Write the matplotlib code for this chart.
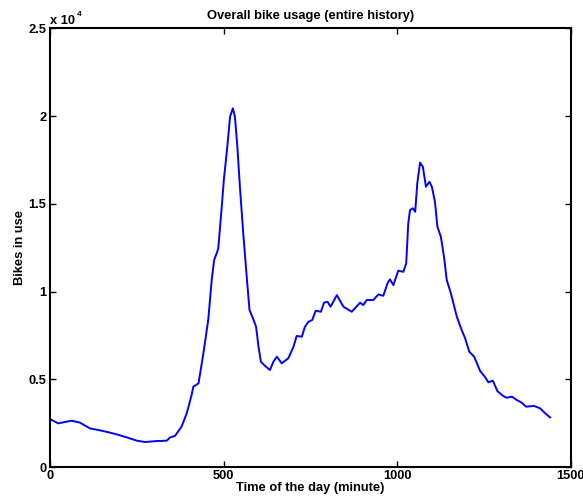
import matplotlib
matplotlib.use('Agg')
import matplotlib.pyplot as plt
from matplotlib.ticker import FuncFormatter

# values (minute of day, bikes in use)
minute = [0, 22, 61, 85, 114, 138, 172, 191, 220, 249, 273, 306, 335, 345, 359,
          378, 393, 407, 412, 427, 441, 455, 465, 472, 480, 484, 494, 500, 510,
          518, 526, 532, 539, 547, 556, 566, 574, 583, 593, 600, 607, 619, 633,
          643, 653, 667, 686, 701, 710, 725, 734, 744, 755, 765, 780, 789, 799,
          808, 826, 845, 869, 893, 902, 912, 931, 946, 960, 972, 979, 989, 1003,
          1018, 1026, 1032, 1037, 1045, 1052, 1058, 1066, 1074, 1083, 1093, 1100,
          1109, 1116, 1126, 1135, 1143, 1155, 1172, 1186, 1196, 1208, 1222, 1239,
          1254, 1263, 1276, 1289, 1305, 1316, 1331, 1345, 1359, 1372, 1395, 1412,
          1427, 1441]
bikes = [2720, 2490, 2640, 2530, 2200, 2110, 1960, 1860, 1690, 1500, 1425, 1480,
         1500, 1690, 1770, 2300, 3060, 4100, 4580, 4770, 6480, 8380, 10660, 11800,
         12220, 12470, 14840, 16360, 18260, 19970, 20450, 19970, 18260, 15790,
         13320, 10850, 8950, 8530, 8000, 6860, 6000, 5760, 5530, 6000, 6290, 5910,
         6200, 6860, 7470, 7430, 8000, 8280, 8380, 8910, 8850, 9370, 9420, 9140,
         9800, 9140, 8850, 9370, 9230, 9520, 9520, 9840, 9760, 10470, 10700,
         10370, 11190, 11130, 11610, 13890, 14650, 14750, 14550, 16170, 17350,
         17120, 15980, 16260, 15980, 15120, 13700, 13130, 11990, 10660, 9900,
         8570, 7810, 7340, 6570, 6290, 5490, 5110, 4830, 4920, 4330, 4060, 3950,
         4010, 3820, 3670, 3440, 3480, 3350, 3060, 2830]

x_ticks = [0, 500, 1000, 1500]
y_ticks = [0, 5000, 10000, 15000, 20000, 25000]

fs = 9.3
plt.rcParams['font.family'] = ['Liberation Sans', 'DejaVu Sans']
plt.rcParams['font.weight'] = 'bold'
plt.rcParams['font.size'] = fs

fig = plt.figure(figsize=(5.83, 4.99), dpi=100)
ax = fig.add_axes([0.0866, 0.0641, 0.892, 0.8788])

ax.plot(minute, bikes, color='#0000ff', linewidth=1.4)

ax.set_xlim(0, 1500)
ax.set_ylim(0, 25000)
ax.set_xticks(x_ticks)
ax.set_yticks(y_ticks)
ax.yaxis.set_major_formatter(FuncFormatter(lambda v, p: f'{v / 1e4:g}'))
ax.tick_params(direction='in', length=4, width=1, top=True, right=True, pad=2,
               labelsize=fs)
ax.tick_params(axis='y', pad=3)
for s in ax.spines.values():
    s.set_linewidth(1.5)

ax.set_title('Overall bike usage (entire history)', fontsize=fs, fontweight='bold', pad=7)
ax.set_xlabel('Time of the day (minute)', fontsize=fs, fontweight='bold', labelpad=0)
ax.set_ylabel('Bikes in use', fontsize=fs, fontweight='bold', labelpad=1.5)

fig.text(0.0858, 0.952, 'x 10', fontsize=fs, fontweight='bold', ha='left', va='baseline')
fig.text(0.132, 0.968, '4', fontsize=6, fontweight='bold', ha='left', va='baseline')

fig.savefig('out.png', dpi=100)
